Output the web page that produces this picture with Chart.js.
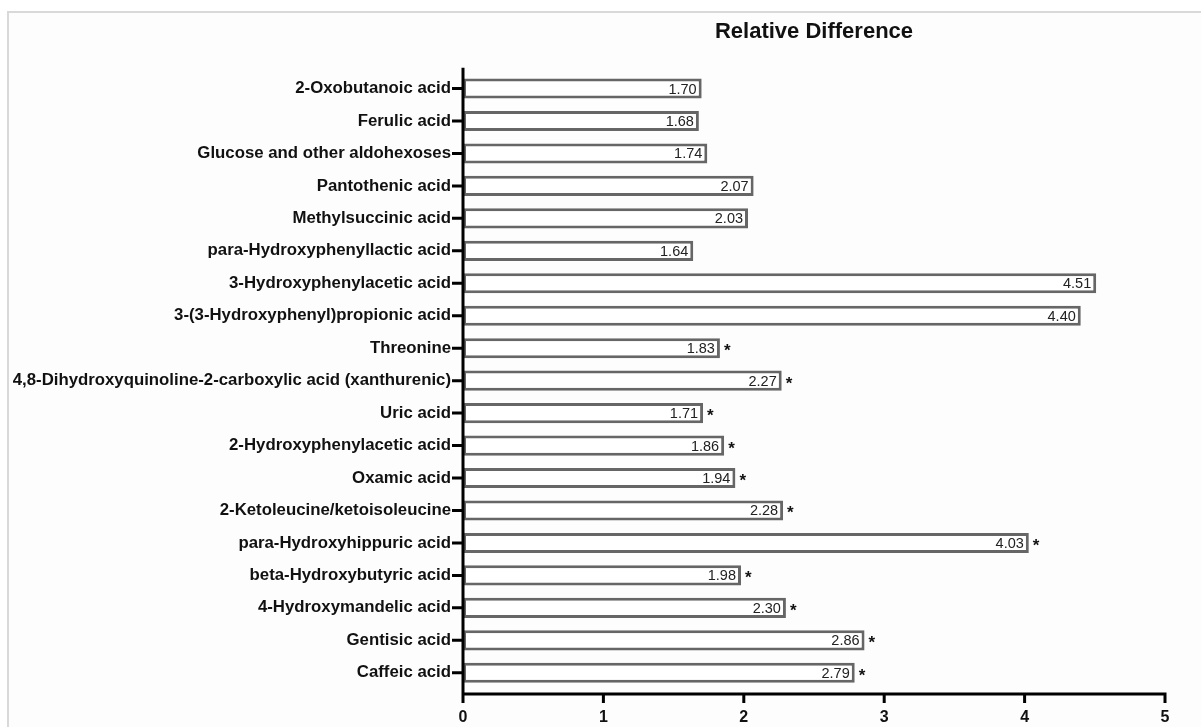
<!DOCTYPE html>
<html>
<head>
<meta charset="utf-8">
<script src="https://cdn.jsdelivr.net/npm/chart.js@4.4.1/dist/chart.umd.min.js"></script>
<style>
  html, body { margin: 0; padding: 0; background: #ffffff; }
  #frame { position: absolute; left: 7px; top: 11px; width: 1300px; height: 800px;
           border-left: 2px solid #d9d9d9; border-top: 2px solid #d9d9d9; background: #fdfdfd; }
  #wrap { position: absolute; left: 0; top: 0; width: 1201px; height: 727px; }
</style>
</head>
<body>
<div id="frame"></div>
<div id="wrap"><canvas id="c" width="1201" height="727"></canvas></div>
<script>
const categories = [
  "2-Oxobutanoic acid",
  "Ferulic acid",
  "Glucose and other aldohexoses",
  "Pantothenic acid",
  "Methylsuccinic acid",
  "para-Hydroxyphenyllactic acid",
  "3-Hydroxyphenylacetic acid",
  "3-(3-Hydroxyphenyl)propionic acid",
  "Threonine",
  "4,8-Dihydroxyquinoline-2-carboxylic acid (xanthurenic)",
  "Uric acid",
  "2-Hydroxyphenylacetic acid",
  "Oxamic acid",
  "2-Ketoleucine/ketoisoleucine",
  "para-Hydroxyhippuric acid",
  "beta-Hydroxybutyric acid",
  "4-Hydroxymandelic acid",
  "Gentisic acid",
  "Caffeic acid"
];
const relativeDifference = [1.70, 1.68, 1.74, 2.07, 2.03, 1.64, 4.51, 4.40, 1.83, 2.27, 1.71, 1.86, 1.94, 2.28, 4.03, 1.98, 2.30, 2.86, 2.79];
const significant = [false, false, false, false, false, false, false, false, true, true, true, true, true, true, true, true, true, true, true];
const xTickValues = [0, 1, 2, 3, 4, 5];
const titleText = "Relative Difference";

const FONT = "'Liberation Sans', Arial, Helvetica, sans-serif";

const annotate = {
  id: 'annotate',
  afterDatasetsDraw(chart) {
    const ctx = chart.ctx;
    const meta = chart.getDatasetMeta(0);
    ctx.save();
    meta.data.forEach((bar, i) => {
      const v = relativeDifference[i];
      ctx.font = "14.5px " + FONT;
      ctx.fillStyle = '#222222';
      ctx.textAlign = 'right';
      ctx.textBaseline = 'middle';
      ctx.fillText(v.toFixed(2), bar.x - 5, bar.y + 1);
      if (significant[i]) {
        ctx.font = "bold 17px " + FONT;
        ctx.fillStyle = '#111111';
        ctx.textAlign = 'left';
        ctx.textBaseline = 'alphabetic';
        ctx.fillText('*', bar.x + 4, bar.y + 8);
      }
    });
    ctx.restore();
  },
  afterDraw(chart) {
    const ctx = chart.ctx;
    const xs = chart.scales.x, ys = chart.scales.y;
    const area = chart.chartArea;
    const x0 = xs.getPixelForValue(0);
    const xEnd = xs.getPixelForValue(xTickValues[xTickValues.length - 1]);
    const yTop = area.top - 4.5;
    const yAxis = area.bottom + 5;
    ctx.save();
    ctx.strokeStyle = '#000';
    ctx.lineWidth = 3;
    ctx.lineCap = 'butt';
    ctx.beginPath();
    ctx.moveTo(x0, yTop);
    ctx.lineTo(x0, yAxis + 1.5);
    ctx.moveTo(x0 - 1.5, yAxis);
    ctx.lineTo(xEnd + 1.5, yAxis);
    xs.ticks.forEach(t => {
      const px = xs.getPixelForValue(t.value);
      ctx.moveTo(px, yAxis);
      ctx.lineTo(px, yAxis + 9);
    });
    ys.ticks.forEach((t, i) => {
      const py = ys.getPixelForValue(i);
      ctx.moveTo(x0 - 11, py);
      ctx.lineTo(x0, py);
    });
    ctx.stroke();
    ctx.restore();
  }
};

new Chart(document.getElementById('c'), {
  type: 'bar',
  data: {
    labels: categories,
    datasets: [{
      data: relativeDifference,
      backgroundColor: '#ffffff',
      borderColor: '#666666',
      borderWidth: 3,
      borderSkipped: false,
      barPercentage: 0.62,
      categoryPercentage: 1.0
    }]
  },
  options: {
    indexAxis: 'y',
    responsive: false,
    animation: false,
    layout: { padding: { left: 0, right: 36, top: 0, bottom: 0 } },
    plugins: {
      legend: { display: false },
      tooltip: { enabled: false },
      title: {
        display: true,
        text: titleText,
        fullSize: false,
        color: '#111',
        font: { family: FONT, size: 22, weight: 'bold', lineHeight: 1.2 },
        padding: { top: 18.8, bottom: 27.1 }
      }
    },
    scales: {
      x: {
        type: 'linear',
        min: 0,
        max: 5,
        afterBuildTicks: s => { s.ticks = xTickValues.map(v => ({ value: v })); },
        afterFit: s => { s.height = 38; },
        grid: { display: false, drawTicks: false },
        border: { display: false },
        ticks: { color: '#111', padding: 19, font: { family: FONT, size: 16, weight: 'bold' } }
      },
      y: {
        type: 'category',
        afterFit: s => { s.width = 463; },
        grid: { display: false, drawTicks: false },
        border: { display: false },
        ticks: { color: '#111', padding: 12, autoSkip: false, font: { family: FONT, size: 16.8, weight: 'bold' } }
      }
    }
  },
  plugins: [annotate]
});
</script>
</body>
</html>
